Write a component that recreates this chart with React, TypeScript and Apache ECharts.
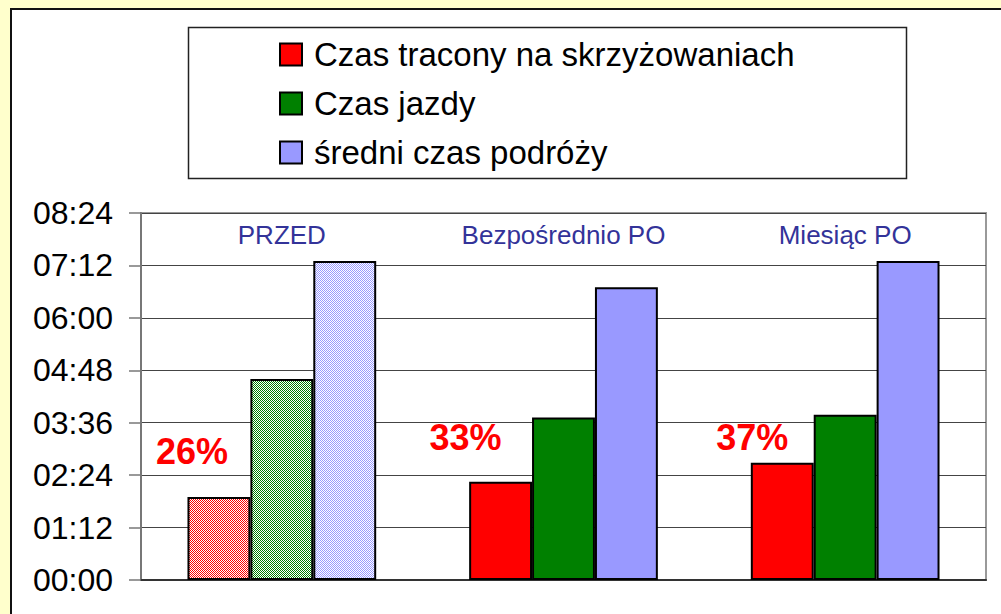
import React, { useEffect, useRef } from "react";
import * as echarts from "echarts";

// Data (values in seconds, axis shows mm:ss)
const categories = ["PRZED", "Bezpośrednio PO", "Miesiąc PO"];
const seriesNames = ["Czas tracony na skrzyżowaniach", "Czas jazdy", "średni czas podróży"];
const lostTime = [114, 135, 161];
const driveTime = [276, 223, 227];
const travelTime = [438, 402, 438];
const pctLabels = ["26%", "33%", "37%"];
const yMin = 0;
const yMax = 504;
const yInterval = 72;

// styles
const colors = ["#FF0000", "#008000", "#9999FF"];
const pctLabelOffsets = [
  [-27, -22],
  [-35, -21],
  [-30, -2],
];
const FONT = "'Liberation Sans', Arial, sans-serif";

function makePattern(color: string) {
  const c = document.createElement("canvas");
  c.width = 2;
  c.height = 2;
  const ctx = c.getContext("2d")!;
  ctx.fillStyle = "#FFFFFF";
  ctx.fillRect(0, 0, 2, 2);
  ctx.fillStyle = color;
  ctx.fillRect(0, 0, 1, 1);
  ctx.fillRect(1, 1, 1, 1);
  return { image: c, repeat: "repeat" } as any;
}

function fmt(v: number) {
  const m = Math.floor(v / 60);
  const s = Math.round(v - m * 60);
  return String(m).padStart(2, "0") + ":" + String(s).padStart(2, "0");
}

export default function App() {
  const ref = useRef<HTMLDivElement>(null);
  useEffect(() => {
    if (!ref.current) return;
    const chart = echarts.init(ref.current, undefined, { renderer: "svg" });
    const allValues = [lostTime, driveTime, travelTime];

    const series = allValues.map((vals, si) => ({
      name: seriesNames[si],
      type: "bar",
      xAxisIndex: 0,
      barGap: "0%",
      barCategoryGap: "33%",
      itemStyle: { color: colors[si], borderColor: "#000", borderWidth: 2 },
      data: vals.map((v, i) => {
        const item: any = { value: v };
        if (i === 0) {
          item.itemStyle = { color: makePattern(colors[si]) };
        }
        if (si === 0) {
          item.label = {
            show: true,
            position: "top",
            offset: pctLabelOffsets[i],
            formatter: () => pctLabels[i],
            color: "#FF0000",
            fontSize: 36,
            fontWeight: "bold",
            fontFamily: FONT,
          };
        }
        return item;
      }),
    }));

    chart.setOption({
      animation: false,
      backgroundColor: "#FFFFCC",
      graphic: [
        {
          type: "rect",
          z: -10,
          shape: { x: 11, y: 9, width: 1100, height: 700 },
          style: { fill: "#FFFFFF", stroke: "#111", lineWidth: 2 },
        },
        {
          type: "rect",
          z: -5,
          shape: { x: 188.5, y: 27.5, width: 718, height: 151 },
          style: { fill: "#FFFFFF", stroke: "#222", lineWidth: 1.5 },
        },
      ],
      legend: {
        data: seriesNames,
        orient: "vertical",
        left: 279,
        top: 38,
        padding: 0,
        itemWidth: 22,
        itemHeight: 22,
        itemGap: 16,
        icon: "rect",
        itemStyle: { borderColor: "#000", borderWidth: 2 },
        textStyle: {
          fontSize: 33,
          lineHeight: 33,
          color: "#000",
          fontFamily: FONT,
          padding: [0, 0, 0, 7],
        },
        selectedMode: false,
      },
      grid: {
        left: 141,
        top: 213,
        width: 845,
        height: 367,
        show: true,
        backgroundColor: "#FFFFFF",
        borderColor: "#999",
        borderWidth: 2,
      },
      xAxis: [
        {
          type: "category",
          data: categories,
          position: "bottom",
          axisLine: { show: true, lineStyle: { color: "#333", width: 2 } },
          axisTick: { show: false },
          axisLabel: { show: false },
        },
        {
          type: "category",
          data: categories,
          position: "top",
          axisLine: { show: false },
          axisTick: { show: false },
          axisLabel: {
            show: true,
            inside: true,
            margin: 9,
            color: "#333399",
            fontSize: 26,
            fontFamily: FONT,
          },
        },
      ],
      yAxis: {
        type: "value",
        min: yMin,
        max: yMax,
        interval: yInterval,
        axisLine: { show: true, lineStyle: { color: "#777", width: 2 } },
        axisTick: { show: true, length: 12, lineStyle: { color: "#777", width: 1.5 } },
        splitLine: { show: true, lineStyle: { color: "#444", width: 1 } },
        axisLabel: {
          formatter: (v: number) => fmt(v),
          margin: 28,
          color: "#000",
          fontSize: 32,
          fontFamily: FONT,
        },
      },
      series,
    });
    return () => chart.dispose();
  }, []);
  return (
    <div
      ref={ref}
      style={{ position: "absolute", left: 0, top: 0, width: 1001, height: 614 }}
    />
  );
}
